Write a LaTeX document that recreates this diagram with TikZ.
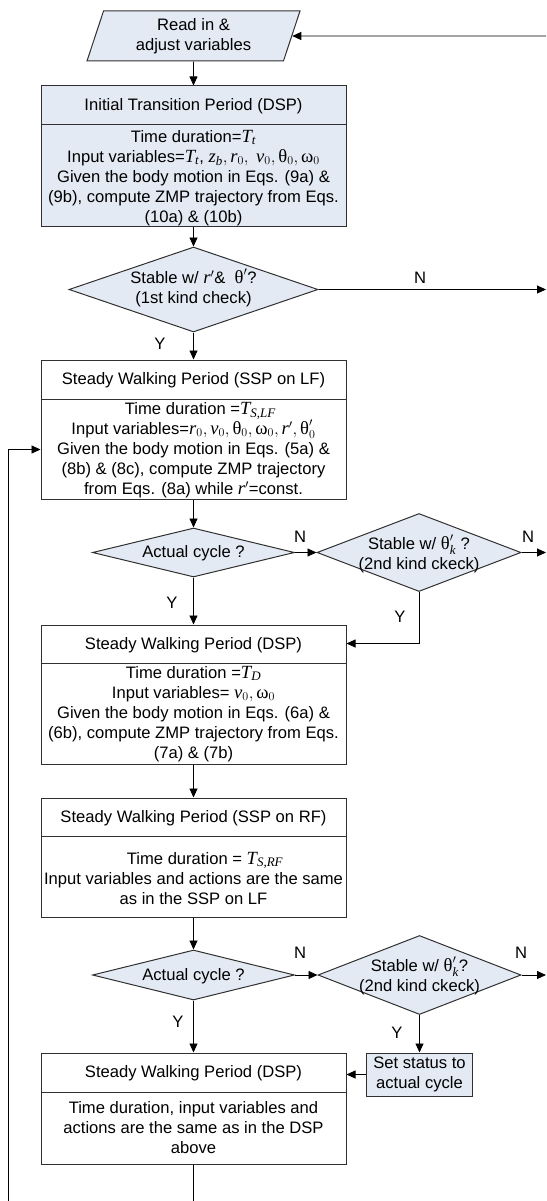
\documentclass[tikz,border=0pt]{standalone}
\usepackage{amsmath}
\usepackage{fontspec}
\setmainfont{Liberation Sans}
\newfontfamily\tms[Scale=1.12]{Liberation Serif}
\usetikzlibrary{shapes.geometric,arrows.meta}
\definecolor{lb}{HTML}{E4EAF4}
\definecolor{ln}{HTML}{303030}
\newcommand\mi[1]{\text{\tms\itshape #1}}
\newcommand\gr[1]{\text{\tms #1}}
\tikzset{
  base/.style={draw=ln, line width=1pt},
  bluebox/.style={base, fill=lb, rectangle, minimum width=305pt, inner sep=0pt},
  whitebox/.style={base, fill=white, rectangle, minimum width=305pt, inner sep=0pt},
  stbox/.style={base, fill=lb, rectangle, minimum width=106pt, minimum height=43pt, inner sep=0pt, align=center},
  dia/.style={base, fill=lb, diamond, inner sep=0pt},
  io/.style={base, fill=lb, trapezium, trapezium left angle=65, trapezium right angle=115, trapezium stretches body, inner sep=0pt},
  txt/.style={align=center, inner sep=0pt},
  arr/.style={draw=black, line width=0.9pt, -{Triangle[length=9pt,width=8pt]}},
  lbl/.style={inner sep=0pt}
}
\begin{document}
\begin{tikzpicture}[x=1pt,y=-1pt,font=\fontsize{16.6}{20}\selectfont]
\useasboundingbox (0,0) rectangle (546,1201);
% input
\node[io, minimum width=213pt, minimum height=50pt, align=center] (read) at (193.5,36) {Read in \&\\adjust variables};
\coordinate (inR) at (546,36);
\draw[arr] (inR) -- (read);
% box 1
\node[bluebox, minimum height=140pt] (b1) at (193.5,156) {};
\draw[base] ([yshift=-39pt]b1.north west) -- ([yshift=-39pt]b1.north east);
\node[txt] (b1h) at (193.5,106) {Initial Transition Period (DSP)};
\node[txt] (b1t) at (193.5,178) {Time duration=$\mi{T}_{\mi{t}}$\\
Input variables=$\mi{T}_{\mi{t}}$, $\mi{z}_{\mi{b}}, \mi{r}_0,\ \mi{v}_0, \gr{θ}_0, \gr{ω}_0$\\
Given the body motion in Eqs. (9a) \&\\
(9b), compute ZMP trajectory from Eqs.\\
(10a) \& (10b)};
\draw[arr] (read) -- (b1);
% diamond 1
\node[dia, minimum width=249pt, minimum height=85pt] (d1) at (193.5,289.5) {};
\node[txt] (d1t) at (193.5,288) {Stable w/ $\mi{r}'$\&\ \ $\gr{θ}'$?\\(1st kind check)};
\draw[arr] (b1) -- (d1);
\coordinate (o1) at (546,289.5);
\draw[arr] (d1) -- (o1);
\node[lbl] (n1) at (420,278) {N};
% box 2
\node[whitebox, minimum height=139pt] (b2) at (193.5,429.5) {};
\draw[base] ([yshift=-40pt]b2.north west) -- ([yshift=-40pt]b2.north east);
\node[txt] (b2h) at (193.5,380) {Steady Walking Period (SSP on LF)};
\node[txt] (b2t) at (193.5,450) {\ \ \ Time duration =$\mi{T}_{\mi{S,LF}}$\\
Input variables=$\mi{r}_0, \mi{v}_0, \gr{θ}_0, \gr{ω}_0, \mi{r}', \gr{θ}'_0$\\
Given the body motion in Eqs. (5a) \&\\
(8b) \& (8c), compute ZMP trajectory\\
from Eqs. (8a) while $\mi{r}'$=const.};
\draw[arr] (d1) -- (b2);
\node[lbl] (y1) at (160,344) {Y};
% diamonds 2, 3
\node[dia, minimum width=202pt, minimum height=49pt] (d2) at (193.5,552.5) {};
\node[txt] (d2t) at (193.5,553) {Actual cycle ?};
\draw[arr] (b2) -- (d2);
\node[dia, minimum width=204pt, minimum height=78pt] (d3) at (419,552.5) {};
\node[txt] (d3t) at (419,554) {Stable w/ $\gr{θ}'_{\mi{k}}$ ?\\(2nd kind ckeck)};
\draw[arr] (d2) -- (d3);
\node[lbl] (n2) at (300,537) {N};
\coordinate (o2) at (546,552.5);
\draw[arr] (d3) -- (o2);
\node[lbl] (n3) at (528,537) {N};
% box 3
\node[whitebox, minimum height=139pt] (b3) at (193.5,694.5) {};
\draw[base] ([yshift=-39pt]b3.north west) -- ([yshift=-39pt]b3.north east);
\node[txt] (b3h) at (193.5,645) {Steady Walking Period (DSP)};
\node[txt] (b3t) at (193.5,714) {Time duration =$\mi{T}_{\mi{D}}$\\
Input variables= $\mi{v}_0, \gr{ω}_0$\\
Given the body motion in Eqs. (6a) \&\\
(6b), compute ZMP trajectory from Eqs.\\
(7a) \& (7b)};
\draw[arr] (d2) -- (b3);
\node[lbl] (y2) at (172,603) {Y};
\draw[arr] (d3.south) |- ([yshift=-19pt]b3.north east);
\node[lbl] (y3) at (400,617) {Y};
% box 4
\node[whitebox, minimum height=119pt] (b4) at (193.5,857.5) {};
\draw[base] ([yshift=-39pt]b4.north west) -- ([yshift=-39pt]b4.north east);
\node[txt] (b4h) at (193.5,818) {Steady Walking Period (SSP on RF)};
\node[txt] (b4t) at (193.5,878) {\ \ \ \ \ Time duration = $\mi{T}_{\mi{S,RF}}$\\
Input variables and actions are the same\\
as in the SSP on LF};
\draw[arr] (b3) -- (b4);
% diamonds 4, 5
\node[dia, minimum width=202pt, minimum height=50pt] (d4) at (193.5,975) {};
\node[txt] (d4t) at (193.5,976) {Actual cycle ?};
\draw[arr] (b4) -- (d4);
\node[dia, minimum width=203pt, minimum height=79pt] (d5) at (419.5,975) {};
\node[txt] (d5t) at (419.5,976) {Stable w/ $\gr{θ}'_{\mi{k}}$?\\(2nd kind ckeck)};
\draw[arr] (d4) -- (d5);
\node[lbl] (n4) at (300,953) {N};
\coordinate (o3) at (546,975);
\draw[arr] (d5) -- (o3);
\node[lbl] (n5) at (521,953) {N};
% box 5
\node[whitebox, minimum height=111pt] (b5) at (193.5,1108.5) {};
\draw[base] ([yshift=-40pt]b5.north west) -- ([yshift=-40pt]b5.north east);
\node[txt] (b5h) at (193.5,1073) {Steady Walking Period (DSP)};
\node[txt] (b5t) at (193.5,1128) {Time duration, input variables and\\
actions are the same as in the DSP\\
above};
\draw[arr] (d4) -- (b5);
\node[lbl] (y4) at (178,1022) {Y};
% set status
\node[stbox] (st) at (419.5,1074.5) {Set status to\\actual cycle};
\draw[arr] (d5) -- (st);
\node[lbl] (y5) at (397,1033) {Y};
\draw[arr] (st) -- (st -| b5.east);
% loop back
\coordinate (lb) at (193.5,1240);
\coordinate (ll) at (8,1240);
\draw[arr] (b5) -- (lb) -- (ll) |- ([yshift=-90pt]b2.north west);
\end{tikzpicture}
\end{document}
